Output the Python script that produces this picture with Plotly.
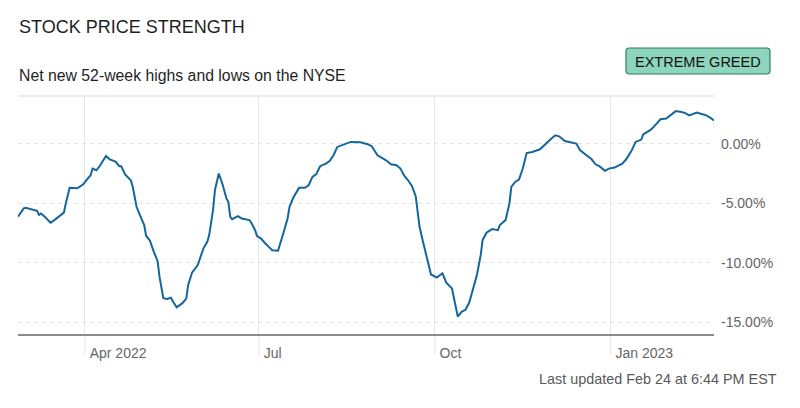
import plotly.graph_objects as go

dates = [
    "2022-02-25", "2022-02-28", "2022-03-01", "2022-03-07", "2022-03-08", "2022-03-09",
    "2022-03-11", "2022-03-14", "2022-03-16", "2022-03-19", "2022-03-21", "2022-03-22",
    "2022-03-24", "2022-03-28", "2022-03-31", "2022-04-02", "2022-04-04", "2022-04-05",
    "2022-04-07", "2022-04-09", "2022-04-12", "2022-04-14", "2022-04-17", "2022-04-19",
    "2022-04-20", "2022-04-22", "2022-04-25", "2022-04-26", "2022-04-28", "2022-04-30",
    "2022-05-02", "2022-05-03", "2022-05-05", "2022-05-07", "2022-05-09", "2022-05-10",
    "2022-05-12", "2022-05-14", "2022-05-16", "2022-05-17", "2022-05-19", "2022-05-22",
    "2022-05-24", "2022-05-25", "2022-05-27", "2022-05-30", "2022-05-31", "2022-06-02",
    "2022-06-04", "2022-06-05", "2022-06-07", "2022-06-08", "2022-06-10", "2022-06-11",
    "2022-06-12", "2022-06-14", "2022-06-15", "2022-06-16", "2022-06-17", "2022-06-20",
    "2022-06-22", "2022-06-26", "2022-06-27", "2022-06-29", "2022-06-30", "2022-07-02",
    "2022-07-03", "2022-07-04", "2022-07-06", "2022-07-08", "2022-07-11", "2022-07-12",
    "2022-07-14", "2022-07-16", "2022-07-17", "2022-07-19", "2022-07-22", "2022-07-25",
    "2022-07-27", "2022-07-29", "2022-07-31", "2022-08-02", "2022-08-05", "2022-08-07",
    "2022-08-09", "2022-08-11", "2022-08-14", "2022-08-18", "2022-08-23", "2022-08-27",
    "2022-08-29", "2022-09-01", "2022-09-04", "2022-09-06", "2022-09-08", "2022-09-11",
    "2022-09-13", "2022-09-15", "2022-09-17", "2022-09-19", "2022-09-21", "2022-09-23",
    "2022-09-25", "2022-09-27", "2022-09-29", "2022-10-02", "2022-10-05", "2022-10-07",
    "2022-10-10", "2022-10-11", "2022-10-13", "2022-10-15", "2022-10-17", "2022-10-19",
    "2022-10-21", "2022-10-23", "2022-10-25", "2022-10-26", "2022-10-28", "2022-10-31",
    "2022-11-03", "2022-11-04", "2022-11-07", "2022-11-09", "2022-11-10", "2022-11-12",
    "2022-11-14", "2022-11-16", "2022-11-18", "2022-11-21", "2022-11-25", "2022-11-28",
    "2022-12-01", "2022-12-03", "2022-12-05", "2022-12-08", "2022-12-11", "2022-12-14",
    "2022-12-16", "2022-12-20", "2022-12-22", "2022-12-24", "2022-12-26", "2022-12-29",
    "2022-12-31", "2023-01-03", "2023-01-07", "2023-01-09", "2023-01-12", "2023-01-14",
    "2023-01-17", "2023-01-18", "2023-01-22", "2023-01-25", "2023-01-27", "2023-01-30",
    "2023-02-02", "2023-02-04", "2023-02-07", "2023-02-09", "2023-02-11", "2023-02-15",
    "2023-02-17", "2023-02-20", "2023-02-22", "2023-02-24",
]

strength = [
    -6.15, -5.45, -5.40, -5.65, -6.00, -5.87,
    -6.15, -6.65, -6.43, -6.04, -5.80, -5.03,
    -3.72, -3.75, -3.44, -3.02, -2.66, -2.10,
    -2.24, -1.82, -1.04, -1.32, -1.51, -1.90,
    -1.90, -2.60, -3.08, -3.63, -5.31, -6.09,
    -6.85, -7.74, -8.16, -9.08, -9.86, -11.18,
    -12.99, -13.05, -12.95, -13.27, -13.75, -13.41,
    -13.02, -11.88, -10.84, -10.20, -9.78, -8.80,
    -8.25, -7.69, -5.59, -3.91, -2.51, -2.93,
    -3.44, -4.61, -4.89, -6.15, -6.35, -6.09,
    -6.29, -6.43, -6.65, -7.27, -7.77, -7.96,
    -8.19, -8.33, -8.66, -8.97, -9.00, -8.52,
    -7.41, -6.29, -5.31, -4.53, -3.72, -3.72,
    -3.50, -2.80, -2.57, -1.90, -1.68, -1.46,
    -0.98, -0.28, -0.08, 0.14, 0.11, -0.06,
    -0.22, -0.98, -1.26, -1.46, -1.74, -1.82,
    -2.10, -2.70, -3.08, -3.55, -4.42, -6.99,
    -8.38, -9.78, -11.00, -11.25, -10.90, -11.68,
    -12.18, -12.99, -14.53, -14.13, -13.97, -13.36,
    -12.30, -11.04, -9.36, -8.10, -7.49, -7.18,
    -7.27, -6.85, -6.43, -5.03, -3.63, -3.22,
    -3.02, -2.10, -0.79, -0.70, -0.48, 0.00,
    0.42, 0.70, 0.61, 0.22, 0.08, 0.00,
    -0.56, -1.05, -1.32, -1.74, -1.90, -2.29,
    -2.10, -2.01, -1.68, -1.34, -0.56, 0.14,
    0.34, 0.78, 1.17, 1.68, 2.04, 2.10,
    2.46, 2.73, 2.65, 2.56, 2.37, 2.60,
    2.51, 2.37, 2.18, 1.95,
]

x_tick_vals = ["2022-04-01", "2022-07-01", "2022-10-01", "2023-01-01"]
x_tick_text = ["Apr 2022", "Jul", "Oct", "Jan 2023"]
y_tick_vals = [0, -5, -10, -15]
y_tick_text = ["0.00%", "-5.00%", "-10.00%", "-15.00%"]

title_text = "STOCK PRICE STRENGTH"
subtitle_text = "Net new 52-week highs and lows on the NYSE"
badge_text = "EXTREME GREED"
footer_text = "Last updated Feb 24 at 6:44 PM EST"

W, H = 800, 408
ML, MR, MT, MB = 18, 86, 96, 74
PW, PH = W - ML - MR, H - MT - MB
FONT = "Liberation Sans, Arial, sans-serif"


def px_x(px):
    return (px - ML) / PW


def px_y(py):
    return (H - MB - py) / PH


def rounded_rect(x0, y0, x1, y1, r):
    X = px_x
    Y = px_y
    return (
        f"M {X(x0 + r)} {Y(y0)} L {X(x1 - r)} {Y(y0)} "
        f"Q {X(x1)} {Y(y0)} {X(x1)} {Y(y0 + r)} L {X(x1)} {Y(y1 - r)} "
        f"Q {X(x1)} {Y(y1)} {X(x1 - r)} {Y(y1)} L {X(x0 + r)} {Y(y1)} "
        f"Q {X(x0)} {Y(y1)} {X(x0)} {Y(y1 - r)} L {X(x0)} {Y(y0 + r)} "
        f"Q {X(x0)} {Y(y0)} {X(x0 + r)} {Y(y0)} Z"
    )


fig = go.Figure()
fig.add_trace(go.Scatter(
    x=dates, y=strength, mode="lines",
    line=dict(color="#14669c", width=2),
    hoverinfo="skip", showlegend=False,
))

shapes = []
shapes.append(dict(type="line", xref="paper", yref="paper", x0=0, x1=1, y0=1, y1=1,
                   line=dict(color="#e6e6e6", width=1.5), layer="below"))
for tv in x_tick_vals:
    shapes.append(dict(type="line", xref="x", yref="paper", x0=tv, x1=tv,
                       y0=0, y1=-21 / PH, line=dict(color="#e4e4e4", width=1), layer="below"))
shapes.append(dict(type="path", xref="paper", yref="paper",
                   path=rounded_rect(626, 48, 770, 74, 3.5),
                   fillcolor="#8dd5bd", line=dict(color="#2f7d5e", width=1.2)))

annotations = [
    dict(text=title_text, x=px_x(16.5), y=px_y(27), xref="paper", yref="paper",
         xanchor="left", yanchor="middle", showarrow=False,
         font=dict(family=FONT, size=18, color="#1f1f1f")),
    dict(text=subtitle_text, x=px_x(16.5), y=px_y(75), xref="paper", yref="paper",
         xanchor="left", yanchor="middle", showarrow=False,
         font=dict(family=FONT, size=15.8, color="#1f1f1f")),
    dict(text=badge_text, x=px_x(698), y=px_y(61.5), xref="paper", yref="paper",
         xanchor="center", yanchor="middle", showarrow=False,
         font=dict(family=FONT, size=14.5, color="#111111")),
    dict(text=footer_text, x=px_x(779), y=px_y(379), xref="paper", yref="paper",
         xanchor="right", yanchor="middle", showarrow=False,
         font=dict(family=FONT, size=14.4, color="#595959")),
]

fig.update_layout(
    width=W, height=H,
    margin=dict(l=ML, r=MR, t=MT, b=MB, pad=0),
    paper_bgcolor="white", plot_bgcolor="white",
    shapes=shapes, annotations=annotations,
    xaxis=dict(
        type="date", range=["2022-02-25", "2023-02-24"],
        tickvals=x_tick_vals, ticktext=x_tick_text,
        showgrid=True, gridcolor="#e6e6e6", gridwidth=1,
        ticks="", ticklabelposition="outside right", ticklabelstandoff=5,
        ticklabelshift=4,
        tickfont=dict(family=FONT, size=14, color="#666666"),
        showline=True, linecolor="#8c8c8c", linewidth=1.5,
        zeroline=False, fixedrange=True,
    ),
    yaxis=dict(
        side="right", range=[-16, 4],
        tickvals=y_tick_vals, ticktext=y_tick_text,
        showgrid=True, gridcolor="#e3e3e3", griddash="4px,4px", gridwidth=1,
        ticks="", ticklabelstandoff=6,
        tickfont=dict(family=FONT, size=14, color="#666666"),
        showline=False, zeroline=False, fixedrange=True,
    ),
)

fig.write_html("out.html", config={"displayModeBar": False})
